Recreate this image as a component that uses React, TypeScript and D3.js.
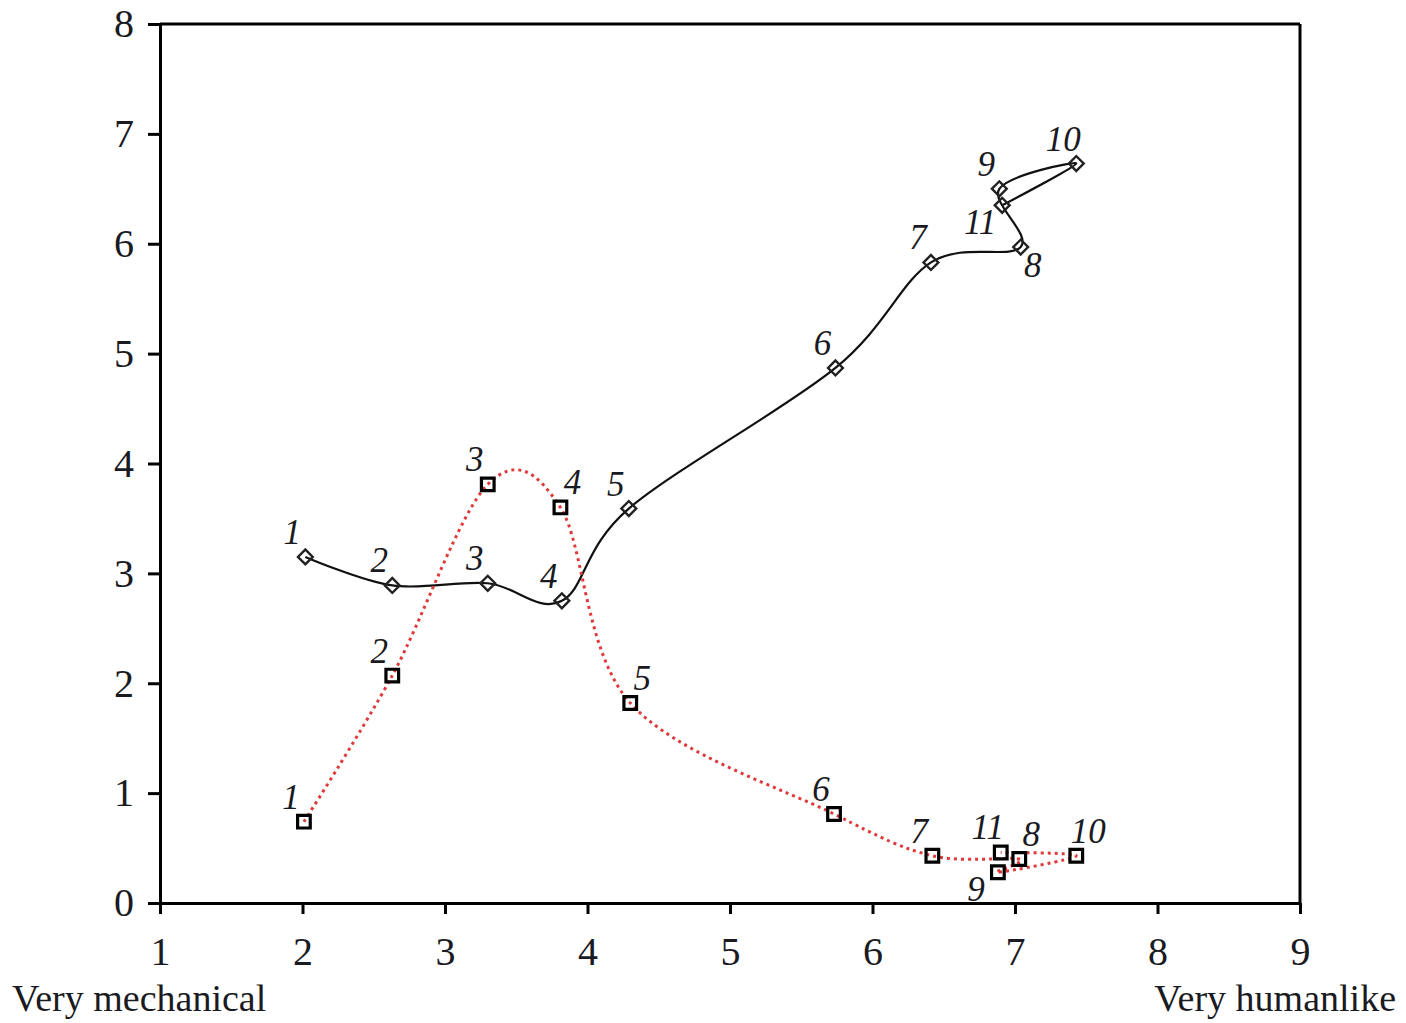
import React, { useEffect, useRef } from 'react';
import * as d3 from 'd3';

// point ids (same for both series)
const pointIds = ['1', '2', '3', '4', '5', '6', '7', '8', '9', '10', '11'];

// black series (diamonds, solid)
const blackX = [2.02, 2.63, 3.30, 3.82, 4.29, 5.74, 6.41, 7.04, 6.89, 7.43, 6.91];
const blackY = [3.15, 2.89, 2.91, 2.75, 3.59, 4.87, 5.83, 5.97, 6.50, 6.73, 6.35];

// red series (squares, dotted)
const redX = [2.01, 2.63, 3.30, 3.81, 4.30, 5.73, 6.42, 7.03, 6.88, 7.43, 6.90];
const redY = [0.74, 2.07, 3.81, 3.60, 1.82, 0.81, 0.43, 0.40, 0.28, 0.43, 0.46];

// where each point's number sits relative to its marker
const blackLabelSide = ['nw', 'nw', 'nw', 'nw', 'nw', 'nw', 'nw', 'se', 'nw', 'nw', 'sw'];
const redLabelSide = ['nw', 'nw', 'nw', 'ne', 'ne', 'nw', 'nw', 'ne', 'sw', 'ne', 'nw'];

const xTicks = [1, 2, 3, 4, 5, 6, 7, 8, 9];
const yTicks = [0, 1, 2, 3, 4, 5, 6, 7, 8];
const xMinLabel = 'Very mechanical';
const xMaxLabel = 'Very humanlike';

const W = 1406;
const H = 1023;
const FONT = '"Liberation Serif", "Times New Roman", serif';

function App() {
  const svgRef = useRef<SVGSVGElement>(null);

  useEffect(() => {
    const svg = d3.select(svgRef.current);
    svg.selectAll('*').remove();

    const x = d3.scaleLinear().domain([1, 9]).range([160, 1300]);
    const y = d3.scaleLinear().domain([0, 8]).range([903, 24]);

    // frame (top and right)
    svg.append('line')
      .attr('x1', x(1)).attr('x2', x(9))
      .attr('y1', y(8)).attr('y2', y(8))
      .attr('stroke', '#000').attr('stroke-width', 3);
    svg.append('line')
      .attr('x1', x(9)).attr('x2', x(9))
      .attr('y1', y(8)).attr('y2', y(0))
      .attr('stroke', '#000').attr('stroke-width', 3);

    const styleAxis = (g: any) => {
      g.attr('font-family', null).attr('font-size', null);
      g.select('.domain').attr('stroke-width', 3);
      g.selectAll('.tick line').attr('stroke-width', 3);
      g.selectAll('.tick text')
        .style('font-family', FONT)
        .style('font-size', '40px')
        .attr('fill', '#1a1a22');
    };

    svg.append('g')
      .attr('transform', `translate(0,${y(0)})`)
      .call(d3.axisBottom(x).tickValues(xTicks).tickFormat(d3.format('d')).tickSize(11).tickSizeOuter(0).tickPadding(23))
      .call(styleAxis);

    svg.append('g')
      .attr('transform', `translate(${x(1)},0)`)
      .call(d3.axisLeft(y).tickValues(yTicks).tickFormat(d3.format('d')).tickSize(12).tickSizeOuter(0).tickPadding(14))
      .call(styleAxis);

    svg.append('text')
      .attr('x', 12).attr('y', 1011)
      .style('font-family', FONT).style('font-size', '38px').attr('fill', '#1a1a22')
      .text(xMinLabel);
    svg.append('text')
      .attr('x', 1396).attr('y', 1011)
      .attr('text-anchor', 'end')
      .style('font-family', FONT).style('font-size', '38px').attr('fill', '#1a1a22')
      .text(xMaxLabel);

    const line = d3.line<[number, number]>()
      .x(d => x(d[0]))
      .y(d => y(d[1]))
      .curve(d3.curveCardinal.tension(0));

    const blackPts: [number, number][] = blackX.map((v, i) => [v, blackY[i]]);
    const redPts: [number, number][] = redX.map((v, i) => [v, redY[i]]);

    svg.append('path')
      .attr('d', line(blackPts))
      .attr('fill', 'none')
      .attr('stroke', '#111')
      .attr('stroke-width', 2.2);

    svg.append('path')
      .attr('d', line(redPts))
      .attr('fill', 'none')
      .attr('stroke', '#e0393a')
      .attr('stroke-width', 3)
      .attr('stroke-dasharray', '3,4');

    const diamond = d3.symbol().type(d3.symbolSquare).size(110);
    svg.append('g').selectAll('path')
      .data(blackPts)
      .join('path')
      .attr('d', diamond())
      .attr('transform', d => `translate(${x(d[0])},${y(d[1])}) rotate(45)`)
      .attr('fill', 'none')
      .attr('stroke', '#222')
      .attr('stroke-width', 2.4);

    const square = d3.symbol().type(d3.symbolSquare).size(160);
    svg.append('g').selectAll('path')
      .data(redPts)
      .join('path')
      .attr('d', square())
      .attr('transform', d => `translate(${x(d[0])},${y(d[1])})`)
      .attr('fill', 'none')
      .attr('stroke', '#000')
      .attr('stroke-width', 3.2);

    const offsets: Record<string, [number, number]> = {
      nw: [-13, -13],
      ne: [12, -13],
      se: [12, 30],
      sw: [-22, 29],
    };

    const drawLabels = (pts: [number, number][], sides: string[]) => {
      svg.append('g').selectAll('text')
        .data(pts)
        .join('text')
        .attr('x', (d, i) => x(d[0]) + offsets[sides[i]][0])
        .attr('y', (d, i) => y(d[1]) + offsets[sides[i]][1])
        .attr('text-anchor', 'middle')
        .style('font-family', FONT)
        .style('font-style', 'italic')
        .style('font-size', '35px')
        .attr('fill', '#1a1a22')
        .text((d, i) => pointIds[i]);
    };
    drawLabels(blackPts, blackLabelSide);
    drawLabels(redPts, redLabelSide);
  }, []);

  return (
    <svg
      ref={svgRef}
      width={W}
      height={H}
      style={{ position: 'absolute', left: 0, top: 0, background: '#fff' }}
    />
  );
}

export default App;
